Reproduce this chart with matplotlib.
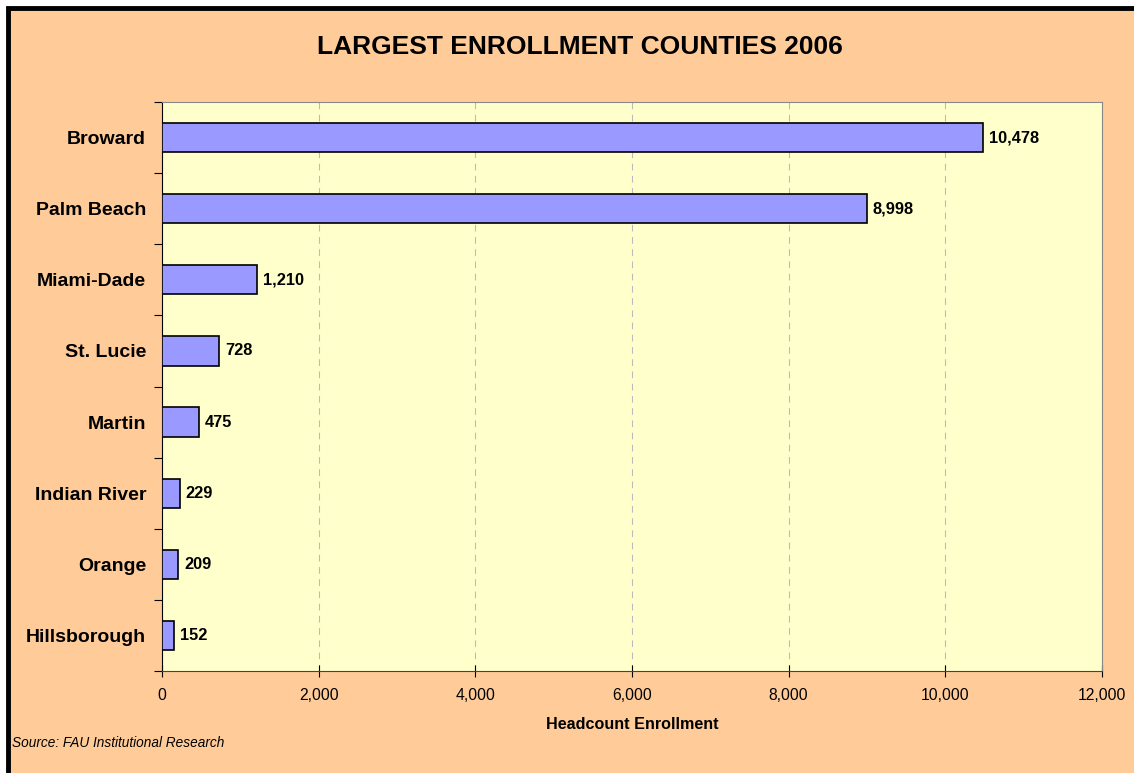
import numpy as np
import matplotlib.pyplot as plt
from matplotlib.patches import Rectangle
from matplotlib.ticker import FuncFormatter, FixedLocator

counties = ["Broward", "Palm Beach", "Miami-Dade", "St. Lucie", "Martin",
            "Indian River", "Orange", "Hillsborough"]
enrollment = [10478, 8998, 1210, 728, 475, 229, 209, 152]

W, H = 1134, 773
plt.rcParams['font.family'] = ['Liberation Sans', 'DejaVu Sans']

fig = plt.figure(figsize=(W / 100, H / 100), dpi=100, facecolor="white")

# peach chart area with black frame (extends past right/bottom edge)
fig.patches.append(Rectangle((8 / W, -0.05), 1.1, 1 - 8 / H + 0.05,
                             transform=fig.transFigure, facecolor="#FFCC99",
                             edgecolor="black", linewidth=3.5, zorder=-1))

ax = fig.add_axes([162 / W, 1 - 671 / H, 940 / W, 569 / H])
ax.set_zorder(2)
ax.set_facecolor("#FFFFCC")

y = np.arange(len(counties))
ax.barh(y, enrollment, height=0.41, color="#9999FF", edgecolor="black",
        linewidth=1.2, zorder=3)
for yi, v in zip(y, enrollment):
    ax.text(v + 75, yi, f"{v:,}", va="center", ha="left", fontsize=11.8,
            fontweight="bold", zorder=4)

ax.set_xlim(0, 12000)
ax.set_ylim(len(counties) - 0.5, -0.5)
ax.set_xticks(np.arange(0, 12001, 2000))
ax.xaxis.set_major_formatter(FuncFormatter(lambda v, p: f"{int(v):,}"))
ax.tick_params(axis="x", labelsize=11.3, direction="inout", length=8, width=0.8, pad=8)

ax.yaxis.set_major_locator(FixedLocator(np.arange(-0.5, len(counties), 1)))
ax.yaxis.set_major_formatter(FuncFormatter(lambda v, p: ""))
ax.yaxis.set_minor_locator(FixedLocator(y))
ax.set_yticklabels(counties, minor=True)
ax.tick_params(axis="y", which="major", direction="out", length=6, width=0.8)
ax.tick_params(axis="y", which="minor", length=0, pad=11.5, labelsize=14)
for lbl in ax.get_yticklabels(minor=True):
    lbl.set_fontweight("bold")

ax.grid(axis="x", color="#BBBBBB", linestyle=(0, (6, 5)), linewidth=0.8, zorder=1)
ax.spines["left"].set_color("black")
ax.spines["bottom"].set_color("#444444")
ax.spines["top"].set_color("#888888")
ax.spines["right"].set_color("#888888")
ax.set_axisbelow(True)

ax.set_xlabel("Headcount Enrollment", fontsize=11.6, fontweight="bold", labelpad=10)
fig.text(580 / W, 1 - 47 / H, "LARGEST ENROLLMENT COUNTIES 2006", ha="center",
         va="center", fontsize=19, fontweight="bold")
fig.text(12 / W, 1 - 743 / H, "Source: FAU Institutional Research", ha="left",
         va="center", fontsize=9.8, style="italic")

fig.savefig("out.png", dpi=100, facecolor=fig.get_facecolor())
